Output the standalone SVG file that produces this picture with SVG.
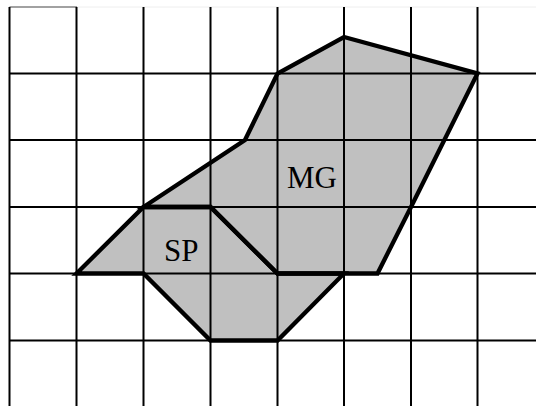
<svg xmlns="http://www.w3.org/2000/svg" width="536" height="406" viewBox="0 0 536 406">
<style>
.grid{stroke:#000;stroke-width:2;fill:none}
.edge{stroke:#000;stroke-width:4.3;fill:none;stroke-linejoin:miter;stroke-linecap:round}
.lbl{font-family:"Liberation Serif","Times New Roman",serif;font-size:31px;fill:#000}
</style>
<rect width="536" height="406" fill="#fff"/>
<g id="region-fill">
<polygon points="76.5,273.5 143.5,207 245,140 277.5,73.5 344,37 477.5,73.5 411,207 377.5,273.5 344,273.5 277.5,340.5 210.5,340.5 143.5,273.5" fill="#c0c0c0"/>
</g>
<g id="grid">
<line x1="9.5" y1="7" x2="77" y2="7" stroke="#444" stroke-width="1.2"/>
<line x1="77" y1="7" x2="536" y2="7" stroke="#eee" stroke-width="1"/>
<path class="grid" d="M9.5 7V406M76.5 7V406M143.5 7V406M210.5 7V406M277.5 7V406M344 7V406M411 7V406M477.5 7V406M9.5 73.5H536M9.5 140H536M9.5 207H536M9.5 273.5H536M9.5 340.5H536"/>
</g>
<g id="MG">
<path class="edge" d="M143.5 207L245 140L277.5 73.5L344 37L477.5 73.5L411 207L377.5 273.5L277.5 273.5L210.5 207Z"/>
<text class="lbl" x="287" y="188">MG</text>
</g>
<g id="SP">
<path class="edge" d="M76.5 273.5L143.5 207L210.5 207L277.5 273.5L344 273.5L277.5 340.5L210.5 340.5L143.5 273.5Z"/>
<text class="lbl" x="164" y="261">SP</text>
</g>
<g id="connectors"></g>
</svg>
